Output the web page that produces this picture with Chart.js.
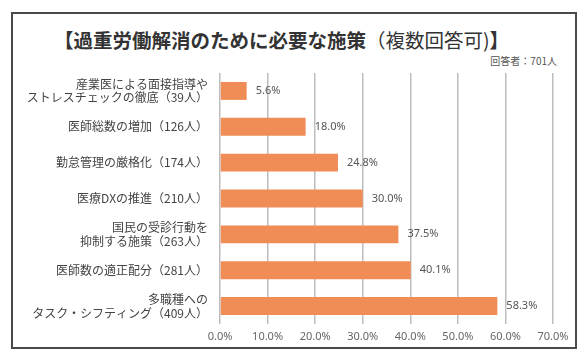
<!DOCTYPE html>
<html lang="ja">
<head>
<meta charset="UTF-8">
<script src="https://cdn.jsdelivr.net/npm/chart.js@4.4.0/dist/chart.umd.min.js"></script>
<style>
    body { margin: 0; background: #fff; font-family: "Noto Sans CJK JP", "Noto Sans", sans-serif; }
    .wrap { position: relative; width: 586px; height: 360px; }
    .frame { position: absolute; left: 11px; top: 12px; width: 562px; height: 333px; border: 2px solid #4a4a4a; }
    .title { position: absolute; left: 54px; top: 27px; font-size: 19.5px; font-weight: bold; color: #333; white-space: nowrap; line-height: 26px; }
    .title .sub { font-weight: normal; }
    .note { position: absolute; right: 29px; top: 53px; font-size: 10px; color: #555; }
    canvas { position: absolute; left: 0; top: 0; }
</style>
</head>
<body>
<div class="wrap">
    <div class="frame"></div>
    <div class="title">【過重労働解消のために必要な施策<span class="sub">（複数回答可)</span>】</div>
    <div class="note">回答者：701人</div>
    <canvas id="chart" width="586" height="360"></canvas>
</div>
<script>
// 項目（上から順）
const categories = [
    ['産業医による面接指導や', 'ストレスチェックの徹底（39人）'],
    '医師総数の増加（126人）',
    '勤怠管理の厳格化（174人）',
    '医療DXの推進（210人）',
    ['国民の受診行動を', '抑制する施策（263人）'],
    '医師数の適正配分（281人）',
    ['多職種への', 'タスク・シフティング（409人）']
];
// 割合（%）
const percents = [5.6, 18.0, 24.8, 30.0, 37.5, 40.1, 58.3];
// 横軸目盛
const xTicks = [0, 10, 20, 30, 40, 50, 60, 70];

// 棒の右側に数値を表示するプラグイン
const valueLabels = {
    id: 'valueLabels',
    afterDatasetsDraw(chart) {
        const ctx = chart.ctx;
        const meta = chart.getDatasetMeta(0);
        ctx.save();
        ctx.font = '11px "Noto Sans", "Noto Sans CJK JP", sans-serif';
        ctx.fillStyle = '#555';
        ctx.textAlign = 'left';
        ctx.textBaseline = 'middle';
        meta.data.forEach((bar, i) => {
            ctx.fillText(percents[i].toFixed(1) + '%', bar.x + 9, bar.y);
        });
        ctx.restore();
    }
};

const ctx = document.getElementById('chart').getContext('2d');
new Chart(ctx, {
    type: 'bar',
    data: {
        labels: categories,
        datasets: [{
            data: percents,
            backgroundColor: '#f08d57',
            borderWidth: 0,
            barPercentage: 0.5,
            categoryPercentage: 1.0
        }]
    },
    options: {
        indexAxis: 'y',
        responsive: false,
        animation: false,
        layout: { padding: { left: 0, right: 33, top: 73, bottom: 16 } },
        plugins: {
            legend: { display: false },
            title: { display: false },
            tooltip: { enabled: false }
        },
        scales: {
            x: {
                min: 0,
                max: 70,
                afterBuildTicks: (scale) => {
                    scale.ticks = xTicks.map(v => ({ value: v }));
                },
                afterFit: (scale) => { scale.height = 20; },
                grid: { color: '#bdbdbd', lineWidth: 1.5, drawTicks: false },
                border: { display: false },
                ticks: {
                    padding: 6,
                    color: '#666',
                    font: { size: 11, family: '"Noto Sans", "Noto Sans CJK JP", sans-serif' },
                    callback: (v) => Number(v).toFixed(1) + '%'
                }
            },
            y: {
                afterFit: (scale) => { scale.width = 220; },
                grid: { display: false, drawTicks: false },
                border: { display: false },
                ticks: {
                    padding: 12,
                    color: '#444',
                    font: { size: 12, family: '"Noto Sans CJK JP", sans-serif', lineHeight: 1.15 }
                }
            }
        }
    },
    plugins: [valueLabels]
});
</script>
</body>
</html>
